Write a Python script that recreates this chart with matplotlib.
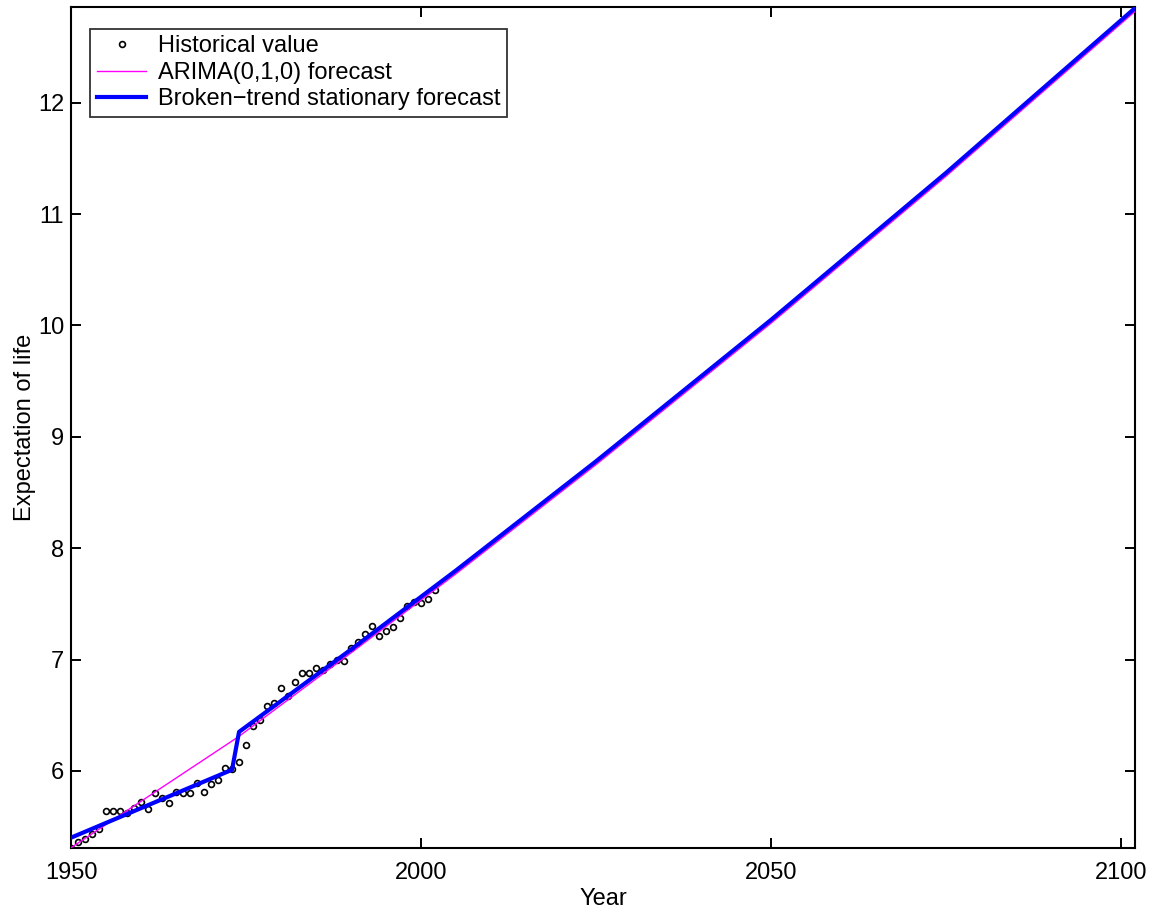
import matplotlib
matplotlib.use("Agg")
import matplotlib.pyplot as plt

# Historical values (1950-2002)
hist_years = list(range(1950, 2003))
hist_values = [5.31, 5.36, 5.39, 5.43, 5.48, 5.64, 5.64, 5.64, 5.62, 5.67,
               5.72, 5.66, 5.80, 5.76, 5.71, 5.81, 5.80, 5.80, 5.89, 5.81,
               5.88, 5.92, 6.03, 6.02, 6.08, 6.23, 6.40, 6.46, 6.58, 6.61,
               6.74, 6.67, 6.80, 6.88, 6.88, 6.92, 6.91, 6.96, 7.00, 6.99,
               7.10, 7.16, 7.23, 7.30, 7.21, 7.26, 7.29, 7.37, 7.48, 7.52,
               7.51, 7.54, 7.62]

# ARIMA(0,1,0) forecast
arima_years = [1950, 1974, 1990, 2005, 2025, 2050, 2075, 2102]
arima_values = [5.31, 6.31, 7.06, 7.77, 8.75, 10.02, 11.34, 12.82]

# Broken-trend stationary forecast
broken_years = [1950, 1973, 1974, 1990, 2005, 2025, 2050, 2075, 2102]
broken_values = [5.40, 6.01, 6.35, 7.09, 7.80, 8.78, 10.05, 11.37, 12.85]

x_ticks = [1950, 2000, 2050, 2100]
y_ticks = [6, 7, 8, 9, 10, 11, 12]

plt.rcParams['font.family'] = ['Liberation Sans', 'DejaVu Sans']
FS = 17

fig = plt.figure(figsize=(11.57, 9.16), dpi=100)
ax = fig.add_axes([0.0614, 0.0742, 0.9196, 0.9182])

ax.plot(hist_years, hist_values, linestyle='none', marker='o', markersize=4.2,
        markerfacecolor='none', markeredgecolor='black', markeredgewidth=1.2,
        label='Historical value', zorder=2)
ax.plot(arima_years, arima_values, color='#ff00ff', linewidth=1.0,
        label='ARIMA(0,1,0) forecast', zorder=3)
ax.plot(broken_years, broken_values, color='#0000ff', linewidth=3.0,
        label='Broken\u2212trend stationary forecast', zorder=4)

ax.set_xlim(1950, 2102)
ax.set_ylim(5.307, 12.86)
ax.set_xticks(x_ticks)
ax.set_yticks(y_ticks)

ax.tick_params(direction='in', length=7, width=1.4, top=True, right=True,
               labelsize=FS, colors='black')
ax.tick_params(axis='y', pad=5)
ax.tick_params(axis='x', pad=10)
for s in ax.spines.values():
    s.set_linewidth(1.5)
    s.set_color('black')

ax.set_xlabel('Year', fontsize=FS, labelpad=3)
ax.set_ylabel('Expectation of life', fontsize=FS, labelpad=1.5)

leg = ax.legend(loc='upper left', bbox_to_anchor=(0.018, 0.974), fontsize=FS,
                frameon=True, fancybox=False, edgecolor='black',
                borderpad=0.28, labelspacing=0.19, handlelength=2.1,
                handletextpad=0.5, borderaxespad=0.0)
leg.get_frame().set_linewidth(1.3)

fig.savefig('out.png', dpi=100)
